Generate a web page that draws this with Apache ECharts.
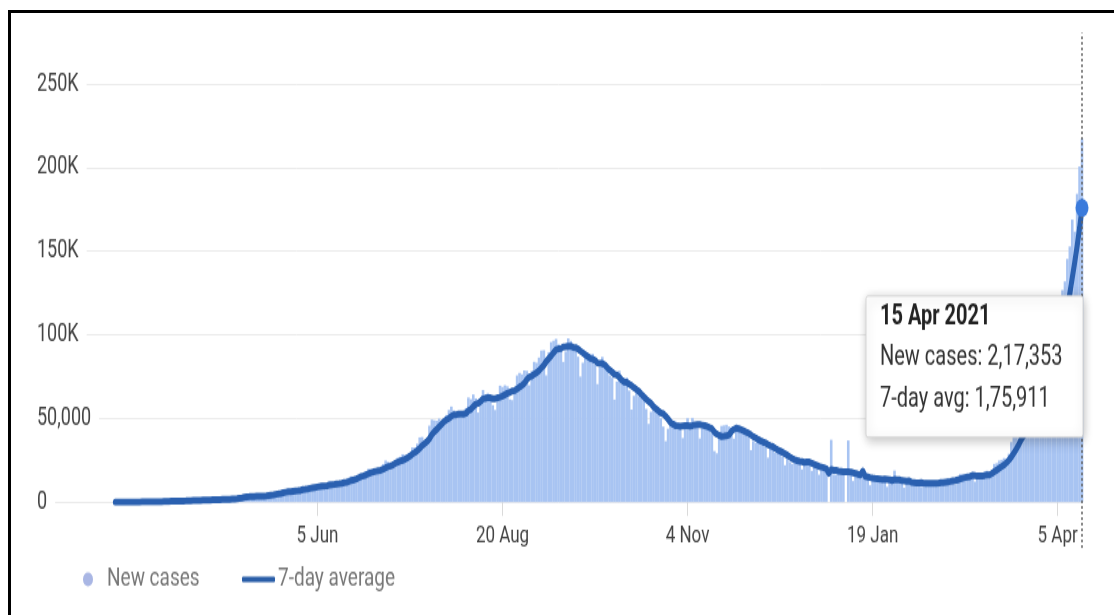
<!DOCTYPE html>
<html>
<head>
<meta charset="utf-8">
<script src="https://cdn.jsdelivr.net/npm/echarts@6/dist/echarts.min.js"></script>
<style>
  html, body { margin: 0; padding: 0; background: #fff; width: 1114px; height: 615px; overflow: hidden; }
  .bar { position: absolute; background: #000; }
  #chart { position: absolute; left: 0; top: 0; width: 1114px; height: 440px; transform: scaleY(1.397727); transform-origin: 0 0; }
</style>
</head>
<body>
<div class="bar" style="left:8px;top:10px;width:3px;height:605px;"></div>
<div class="bar" style="left:8px;top:10px;width:1106px;height:3px;"></div>
<div id="chart"></div>
<script>
// ---------------- DATA ----------------
const firstDay = '2020-03-14';            // date of the first bar
const axisStartDate = '2020-02-10';       // left end of the date axis
const seriesNames = ['New cases', '7-day average'];

// Daily new cases, 14 Mar 2020 .. 15 Apr 2021 (one value per day)
const newCases = [
  // Mar 2020 (14-31)
  12, 12, 15, 23, 14, 35, 58, 78, 69, 94, 74, 86, 73, 153, 136, 120, 187, 309,
  // Apr
  424, 486, 560, 579, 609, 484, 573, 565, 813, 871, 854, 758, 1243, 1031, 886, 1061, 922, 1371, 1580, 1239,
  1537, 1292, 1667, 1408, 1835, 1607, 1568, 1902, 1705, 1801,
  // May
  2396, 2564, 2952, 3656, 2971, 3602, 3344, 3339, 3175, 4311, 3592, 3562, 3726, 3991, 3808, 4794, 5050, 4628, 6147, 5553,
  6198, 6629, 7111, 6414, 5843, 7293, 7300, 7761, 8171, 8789, 8392,
  // Jun
  8171, 8909, 9304, 9851, 9887, 10438, 10864, 8442, 9987, 12375, 11128, 11320, 12023, 11502, 10667, 12881, 13586, 14516, 15413, 14821,
  14933, 15968, 16922, 17296, 18552, 19906, 19459, 18522, 18641, 19148,
  // Jul
  20903, 22771, 24850, 24015, 22252, 22752, 24879, 26506, 27114, 28637, 28178, 28701, 29429, 32695, 32676, 34956, 38697, 38902, 37148, 37740,
  45720, 49310, 48916, 48661, 49931, 47703, 48513, 52123, 55079, 57118, 54736,
  // Aug
  52972, 52050, 50629, 52509, 56282, 62538, 61537, 64399, 62064, 53601, 60963, 66999, 64553, 65002, 63490, 57981, 55079, 64531, 69652, 68898,
  69878, 69239, 61408, 60975, 67151, 75760, 77266, 76472, 78761, 78512, 69921,
  // Sep
  78357, 83883, 83341, 86432, 90632, 90802, 75809, 89706, 95735, 96551, 97570, 94372, 92071, 83809, 90123, 97894, 96424, 93337, 92605, 86961,
  75083, 83347, 86508, 86052, 85362, 88600, 82170, 70589, 80472, 86821,
  // Oct
  81484, 79476, 75829, 74442, 61267, 72049, 78524, 70496, 73272, 74383, 66732, 55342, 63509, 67708, 63371, 62212, 61871, 55722, 46790, 54044,
  55839, 54366, 53370, 50129, 45148, 36470, 43893, 49881, 48648, 48268, 46963,
  // Nov
  45231, 38310, 46253, 50210, 47638, 50356, 45674, 45903, 38073, 44281, 47905, 44879, 44878, 41100, 30548, 29164, 38617, 45576, 45882, 46232,
  45209, 44059, 37975, 44376, 43082, 41322, 41810, 40980, 38772, 31118,
  // Dec
  36604, 35551, 36595, 36652, 36011, 32981, 26567, 32080, 31521, 29398, 30006, 30254, 27071, 22065, 26382, 24010, 22890, 25153, 26624, 24337,
  19556, 23950, 24712, 23067, 18732, 22272, 20021, 16432, 20549, 21822, 20035,
  // Jan 2021
  0, 37256, 16504, 16375, 18088, 20346, 18139, 0, 36867, 16311, 12584, 15968, 16946, 15590, 15158, 15144, 13788, 10064, 13823, 15223,
  14545, 14256, 13203, 14849, 9102, 12689, 11666, 18855, 13083, 13052, 11427,
  // Feb
  8635, 11039, 12899, 12408, 11713, 12059, 11831, 9110, 9093, 12923, 11610, 12143, 12194, 11649, 9121, 11610, 12881, 13193, 13993, 14264,
  14199, 10584, 13742, 16738, 16577, 16488, 16752, 16100,
  // Mar
  15510, 12286, 14989, 17407, 16838, 18327, 18711, 15388, 17921, 22854, 23285, 24882, 25320, 26291, 24492, 28903, 35871, 39726, 40953, 43846,
  46951, 40715, 47262, 53476, 59118, 62258, 62714, 68020, 56211, 53480, 72330,
  // Apr (1-15)
  81466, 89129, 93249, 103558, 96982, 115736, 126789, 131968, 145384, 152879, 168912, 161736, 184372, 200739, 217353
];

// 7-day average, same days
const avg7 = [
  // Mar 2020 (14-31)
  6, 7, 8, 10, 11, 15, 24, 34, 42, 53, 60, 71, 76, 90, 98, 105, 118, 152,
  // Apr
  200, 259, 317, 381, 451, 493, 531, 551, 598, 642, 681, 703, 811, 876, 922, 958, 965, 1039, 1156, 1156,
  1228, 1286, 1373, 1442, 1508, 1512, 1559, 1611, 1670, 1689,
  // May
  1810, 1920, 2090, 2340, 2530, 2800, 3070, 3200, 3230, 3330, 3420, 3500, 3560, 3610, 3740, 3950, 4160, 4330, 4650, 4900,
  5200, 5600, 5900, 6170, 6280, 6520, 6700, 6790, 6950, 7450, 7650,
  // Jun
  7900, 8200, 8500, 8800, 9050, 9300, 9630, 9670, 9830, 10270, 10450, 10580, 10800, 10970, 11290, 11700, 11870, 12360, 12940, 13330,
  13830, 14590, 15350, 15730, 16280, 16920, 17580, 18090, 18470, 18790,
  // Jul
  19040, 19640, 20460, 21110, 21630, 22260, 23200, 23860, 24480, 25020, 25610, 26530, 27490, 28750, 29630, 30750, 32190, 33720, 34930, 36180,
  37980, 40360, 42070, 43500, 45080, 46590, 48170, 49310, 50130, 51300, 52170,
  // Aug
  52280, 52610, 52530, 52600, 53110, 54700, 55500, 57130, 58560, 58980, 60190, 61720, 62010, 62510, 62380, 61800, 61870, 62380, 62760, 63380,
  64220, 65040, 65530, 66370, 66750, 67620, 68820, 69750, 71110, 73270, 74840,
  // Sep
  75290, 76480, 77350, 78630, 80290, 81900, 84180, 85800, 87490, 89380, 91110, 91620, 91800, 92830, 92890, 93200, 93180, 92580, 92340, 91620,
  90350, 89290, 88100, 87050, 86020, 85450, 84770, 83230, 82820, 82870,
  // Oct
  82100, 80500, 79000, 77800, 76320, 75970, 74720, 72870, 71840, 71630, 70530, 69680, 68460, 67350, 66190, 64610, 63110, 61530, 60310, 58960,
  57120, 55830, 54570, 53320, 52810, 51340, 49750, 47610, 46650, 45780, 45610,
  // Nov
  45340, 45600, 45790, 45690, 45400, 45780, 46240, 46340, 46300, 46020, 45690, 45300, 44520, 43860, 41950, 40680, 39870, 39250, 39390, 39580,
  40180, 42250, 43450, 44270, 43910, 43260, 42620, 41940, 41180, 40210,
  // Dec
  39140, 38390, 37440, 36600, 35920, 35370, 34420, 33780, 33200, 32170, 31220, 30540, 29700, 28910, 28090, 27020, 26000, 25310, 24800, 24410,
  24140, 23790, 23890, 23910, 23280, 22650, 21990, 21310, 20930, 20550, 19980,
  // Jan 2021
  17300, 19450, 18940, 18930, 18580, 18370, 18100, 18100, 18050, 18020, 17480, 17170, 16690, 16320, 18490, 15390, 15030, 14670, 14360, 14110,
  13960, 13840, 13560, 13710, 13570, 13410, 12900, 13520, 13350, 13330, 12840,
  // Feb
  12770, 12540, 12710, 11790, 11600, 11450, 11510, 11580, 11300, 11310, 11190, 11250, 11270, 11250, 11250, 11610, 11600, 11830, 12090, 12390,
  12750, 12960, 13270, 13820, 14300, 14660, 15010, 15280,
  // Mar
  15990, 15780, 15530, 15650, 15700, 15920, 16295, 16278, 17083, 18207, 19046, 20195, 21194, 22277, 23578, 25147, 27006, 29355, 31651, 34297,
  37249, 39566, 42189, 44704, 47474, 50518, 53213, 56223, 58437, 59325, 62019,
  // Apr (1-15)
  65211, 69050, 73412, 78489, 84313, 93207, 100987, 108202, 116238, 124757, 134093, 143343, 153149, 163713, 175911
];

const yTickValues = [0, 50000, 100000, 150000, 200000, 250000];
const yTickLabels = ['0', '50,000', '100K', '150K', '200K', '250K'];
const xTickDates  = ['2020-06-05', '2020-08-20', '2020-11-04', '2021-01-19', '2021-04-05'];
const xTickLabels = ['5 Jun', '20 Aug', '4 Nov', '19 Jan', '5 Apr'];
const monthNames  = ['Jan','Feb','Mar','Apr','May','Jun','Jul','Aug','Sep','Oct','Nov','Dec'];
const tipLabels   = ['New cases', '7-day avg'];

// ---------------- HELPERS ----------------
function parseYMD(s, addDays) {
  const p = s.split('-').map(Number);
  return new Date(p[0], p[1] - 1, p[2] + (addDays || 0)).getTime();
}
function fmtIndian(n) {
  const s = String(Math.round(n));
  if (s.length <= 3) return s;
  const last3 = s.slice(-3);
  const rest = s.slice(0, -3).replace(/\B(?=(\d{2})+(?!\d))/g, ',');
  return rest + ',' + last3;
}

const days = newCases.map((_, i) => parseYMD(firstDay, i));   // one timestamp per bar
const lastIdx = newCases.length - 1;
const lastDay = days[lastIdx];
const axisMin = parseYMD(axisStartDate);
const axisMax = lastDay;
const xTickStamps = xTickDates.map(s => parseYMD(s));

const lastD = new Date(lastDay);
const tipTitle = lastD.getDate() + ' ' + monthNames[lastD.getMonth()] + ' ' + lastD.getFullYear();
const tipLine1 = tipLabels[0] + ': ' + fmtIndian(newCases[lastIdx]);
const tipLine2 = tipLabels[1] + ': ' + fmtIndian(avg7[lastIdx]);

const FONT = 'Roboto, Arial, sans-serif';

const chart = echarts.init(document.getElementById('chart'), null, { renderer: 'canvas' });

const option = {
  animation: false,
  backgroundColor: 'transparent',
  textStyle: { fontFamily: FONT },
  grid: [
    { left: 35, right: 32, top: 60.1, bottom: 80.8, containLabel: false, outerBoundsMode: 'none' },
    { left: 35, right: 32, top: 23.6, bottom: 48, containLabel: false, outerBoundsMode: 'none' }
  ],
  xAxis: [
    {
      type: 'value', gridIndex: 0, min: axisMin, max: axisMax, scale: true,
      axisLine: { show: false },
      splitLine: { show: false },
      axisTick: { show: true, customValues: xTickStamps, length: 10, lineStyle: { color: '#dadada', width: 1 } },
      axisLabel: {
        customValues: xTickStamps, color: '#444', fontSize: 17, margin: 16, fontFamily: FONT,
        showMinLabel: true, showMaxLabel: true,
        formatter: function (val) {
          const i = xTickStamps.findIndex(t => Math.abs(t - val) < 43200000);
          return i >= 0 ? xTickLabels[i] : '';
        }
      }
    },
    { type: 'value', gridIndex: 1, min: axisMin, max: axisMax, scale: true, show: false }
  ],
  yAxis: [
    {
      type: 'value', gridIndex: 0, min: 0, max: 250000, interval: 50000,
      axisLine: { show: false }, axisTick: { show: false },
      splitLine: { show: true, lineStyle: { color: '#ebebeb', width: 1 } },
      axisLabel: {
        inside: true, margin: 0, color: '#444', fontSize: 18, fontFamily: FONT,
        backgroundColor: '#fff', padding: [2, 8, 2, 2],
        formatter: function (val) {
          const i = yTickValues.indexOf(val);
          return i >= 0 ? yTickLabels[i] : '';
        }
      }
    },
    { type: 'value', gridIndex: 1, min: 0, max: 1, show: false }
  ],
  legend: [
    {
      data: [{ name: seriesNames[0], icon: 'circle', itemStyle: { color: '#a9b6e4' } }],
      left: 83, top: 405, padding: 0, itemWidth: 10, itemHeight: 10, selectedMode: false,
      textStyle: { color: '#777', fontSize: 19, fontFamily: FONT, padding: [0, 0, 0, 9] }
    },
    {
      data: [{ name: seriesNames[1], icon: 'roundRect', itemStyle: { color: '#2a5ea8' } }],
      left: 242, top: 405, padding: 0, itemWidth: 33, itemHeight: 4, selectedMode: false,
      textStyle: { color: '#777', fontSize: 19, fontFamily: FONT, padding: [0, 0, 0, -2] }
    }
  ],
  series: [
    {
      name: seriesNames[0], type: 'bar', xAxisIndex: 0, yAxisIndex: 0,
      data: days.map((t, i) => [t, newCases[i]]),
      barWidth: 2.6, itemStyle: { color: '#a8c4f2' }, silent: true, z: 2
    },
    {
      name: seriesNames[1], type: 'line', xAxisIndex: 0, yAxisIndex: 0,
      data: days.map((t, i) => [t, avg7[i]]),
      showSymbol: false, symbol: 'none', silent: true, z: 3,
      lineStyle: { color: '#2a60b0', width: 5, join: 'round', cap: 'round' },
      itemStyle: { color: '#2a60b0' },
      markPoint: {
        symbol: 'circle', symbolSize: 13, silent: true,
        itemStyle: { color: '#3b7bdc' }, label: { show: false },
        data: [{ coord: [lastDay, avg7[lastIdx]] }]
      }
    },
    {
      type: 'line', xAxisIndex: 1, yAxisIndex: 1, silent: true, z: 4, clip: false,
      data: [[lastDay, 0], [lastDay, 1]], symbol: 'none',
      lineStyle: { color: '#666', width: 1.5, type: [2, 2] }
    }
  ],
  graphic: [
    { type: 'rect', z: 100, shape: { x: 866, y: 211.8, width: 217, height: 101, r: 2 },
      style: { fill: '#fff', stroke: '#d5d5d5', lineWidth: 1, shadowBlur: 8, shadowColor: 'rgba(0,0,0,0.25)', shadowOffsetY: 2, shadowOffsetX: 1 } },
    { type: 'text', z: 101, x: 880, y: 226.6,
      style: { text: tipTitle, font: 'bold 20px ' + FONT, fill: '#222', verticalAlign: 'middle' } },
    { type: 'text', z: 101, x: 880, y: 255.8,
      style: { text: tipLine1, font: '20px ' + FONT, fill: '#333', verticalAlign: 'middle' } },
    { type: 'text', z: 101, x: 880, y: 286.2,
      style: { text: tipLine2, font: '20px ' + FONT, fill: '#333', verticalAlign: 'middle' } }
  ]
};

chart.setOption(option);
</script>
</body>
</html>
